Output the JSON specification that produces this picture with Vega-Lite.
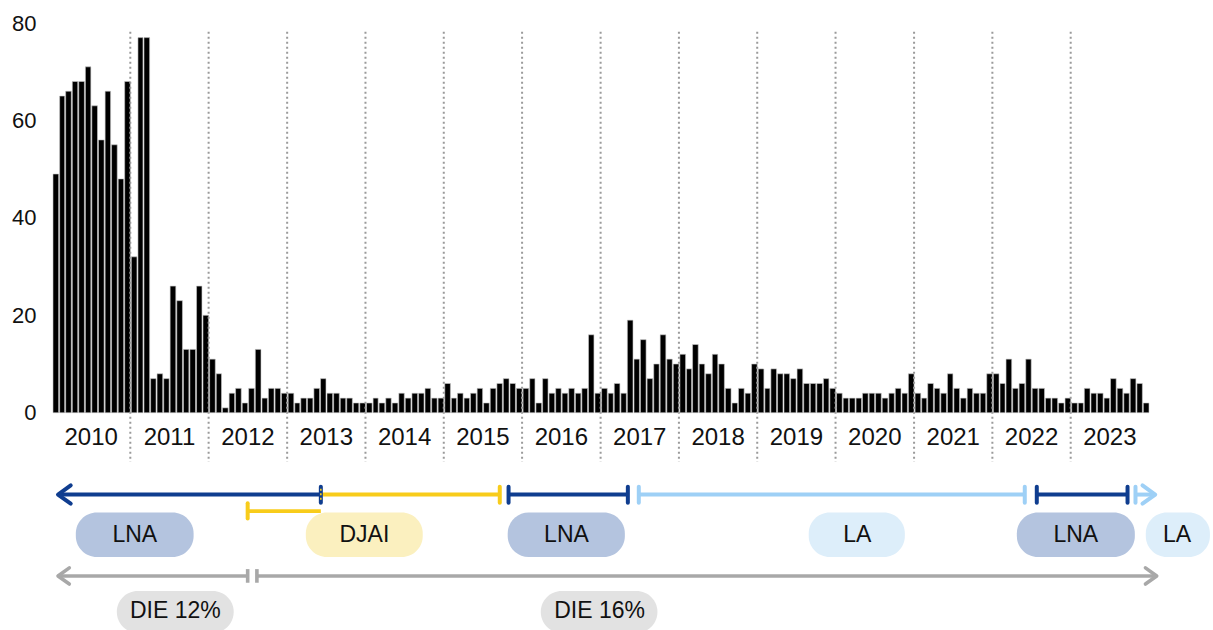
{
  "$schema": "https://vega.github.io/schema/vega-lite/v6.json",
  "width": 1097,
  "height": 607,
  "autosize": {"type": "none"},
  "padding": {"left": 52, "top": 23, "right": 64, "bottom": 0},
  "background": "white",
  "config": {"font": "Liberation Sans", "view": {"stroke": null}},
  "datasets": {
    "monthly": [
      {"month":"2010-01-01","n":49},{"month":"2010-02-01","n":65},{"month":"2010-03-01","n":66},{"month":"2010-04-01","n":68},{"month":"2010-05-01","n":68},{"month":"2010-06-01","n":71},{"month":"2010-07-01","n":63},{"month":"2010-08-01","n":56},{"month":"2010-09-01","n":66},{"month":"2010-10-01","n":55},{"month":"2010-11-01","n":48},{"month":"2010-12-01","n":68},
      {"month":"2011-01-01","n":32},{"month":"2011-02-01","n":77},{"month":"2011-03-01","n":77},{"month":"2011-04-01","n":7},{"month":"2011-05-01","n":8},{"month":"2011-06-01","n":7},{"month":"2011-07-01","n":26},{"month":"2011-08-01","n":23},{"month":"2011-09-01","n":13},{"month":"2011-10-01","n":13},{"month":"2011-11-01","n":26},{"month":"2011-12-01","n":20},
      {"month":"2012-01-01","n":11},{"month":"2012-02-01","n":8},{"month":"2012-03-01","n":1},{"month":"2012-04-01","n":4},{"month":"2012-05-01","n":5},{"month":"2012-06-01","n":2},{"month":"2012-07-01","n":5},{"month":"2012-08-01","n":13},{"month":"2012-09-01","n":3},{"month":"2012-10-01","n":5},{"month":"2012-11-01","n":5},{"month":"2012-12-01","n":4},
      {"month":"2013-01-01","n":4},{"month":"2013-02-01","n":2},{"month":"2013-03-01","n":3},{"month":"2013-04-01","n":3},{"month":"2013-05-01","n":5},{"month":"2013-06-01","n":7},{"month":"2013-07-01","n":4},{"month":"2013-08-01","n":4},{"month":"2013-09-01","n":3},{"month":"2013-10-01","n":3},{"month":"2013-11-01","n":2},{"month":"2013-12-01","n":2},
      {"month":"2014-01-01","n":2},{"month":"2014-02-01","n":3},{"month":"2014-03-01","n":2},{"month":"2014-04-01","n":3},{"month":"2014-05-01","n":2},{"month":"2014-06-01","n":4},{"month":"2014-07-01","n":3},{"month":"2014-08-01","n":4},{"month":"2014-09-01","n":4},{"month":"2014-10-01","n":5},{"month":"2014-11-01","n":3},{"month":"2014-12-01","n":3},
      {"month":"2015-01-01","n":6},{"month":"2015-02-01","n":3},{"month":"2015-03-01","n":4},{"month":"2015-04-01","n":3},{"month":"2015-05-01","n":4},{"month":"2015-06-01","n":5},{"month":"2015-07-01","n":2},{"month":"2015-08-01","n":5},{"month":"2015-09-01","n":6},{"month":"2015-10-01","n":7},{"month":"2015-11-01","n":6},{"month":"2015-12-01","n":5},
      {"month":"2016-01-01","n":5},{"month":"2016-02-01","n":7},{"month":"2016-03-01","n":2},{"month":"2016-04-01","n":7},{"month":"2016-05-01","n":4},{"month":"2016-06-01","n":5},{"month":"2016-07-01","n":4},{"month":"2016-08-01","n":5},{"month":"2016-09-01","n":4},{"month":"2016-10-01","n":5},{"month":"2016-11-01","n":16},{"month":"2016-12-01","n":4},
      {"month":"2017-01-01","n":5},{"month":"2017-02-01","n":4},{"month":"2017-03-01","n":6},{"month":"2017-04-01","n":4},{"month":"2017-05-01","n":19},{"month":"2017-06-01","n":11},{"month":"2017-07-01","n":15},{"month":"2017-08-01","n":7},{"month":"2017-09-01","n":10},{"month":"2017-10-01","n":16},{"month":"2017-11-01","n":11},{"month":"2017-12-01","n":10},
      {"month":"2018-01-01","n":12},{"month":"2018-02-01","n":9},{"month":"2018-03-01","n":14},{"month":"2018-04-01","n":10},{"month":"2018-05-01","n":8},{"month":"2018-06-01","n":12},{"month":"2018-07-01","n":10},{"month":"2018-08-01","n":5},{"month":"2018-09-01","n":2},{"month":"2018-10-01","n":5},{"month":"2018-11-01","n":4},{"month":"2018-12-01","n":10},
      {"month":"2019-01-01","n":9},{"month":"2019-02-01","n":5},{"month":"2019-03-01","n":9},{"month":"2019-04-01","n":8},{"month":"2019-05-01","n":8},{"month":"2019-06-01","n":7},{"month":"2019-07-01","n":9},{"month":"2019-08-01","n":6},{"month":"2019-09-01","n":6},{"month":"2019-10-01","n":6},{"month":"2019-11-01","n":7},{"month":"2019-12-01","n":5},
      {"month":"2020-01-01","n":4},{"month":"2020-02-01","n":3},{"month":"2020-03-01","n":3},{"month":"2020-04-01","n":3},{"month":"2020-05-01","n":4},{"month":"2020-06-01","n":4},{"month":"2020-07-01","n":4},{"month":"2020-08-01","n":3},{"month":"2020-09-01","n":4},{"month":"2020-10-01","n":5},{"month":"2020-11-01","n":4},{"month":"2020-12-01","n":8},
      {"month":"2021-01-01","n":4},{"month":"2021-02-01","n":3},{"month":"2021-03-01","n":6},{"month":"2021-04-01","n":5},{"month":"2021-05-01","n":4},{"month":"2021-06-01","n":8},{"month":"2021-07-01","n":5},{"month":"2021-08-01","n":3},{"month":"2021-09-01","n":5},{"month":"2021-10-01","n":4},{"month":"2021-11-01","n":4},{"month":"2021-12-01","n":8},
      {"month":"2022-01-01","n":8},{"month":"2022-02-01","n":6},{"month":"2022-03-01","n":11},{"month":"2022-04-01","n":5},{"month":"2022-05-01","n":6},{"month":"2022-06-01","n":11},{"month":"2022-07-01","n":5},{"month":"2022-08-01","n":5},{"month":"2022-09-01","n":3},{"month":"2022-10-01","n":3},{"month":"2022-11-01","n":2},{"month":"2022-12-01","n":3},
      {"month":"2023-01-01","n":2},{"month":"2023-02-01","n":2},{"month":"2023-03-01","n":5},{"month":"2023-04-01","n":4},{"month":"2023-05-01","n":4},{"month":"2023-06-01","n":3},{"month":"2023-07-01","n":7},{"month":"2023-08-01","n":5},{"month":"2023-09-01","n":4},{"month":"2023-10-01","n":7},{"month":"2023-11-01","n":6},{"month":"2023-12-01","n":2}
    ],
    "years": [
      {"year":"2010-01-01"},{"year":"2011-01-01"},{"year":"2012-01-01"},{"year":"2013-01-01"},{"year":"2014-01-01"},{"year":"2015-01-01"},{"year":"2016-01-01"},
      {"year":"2017-01-01"},{"year":"2018-01-01"},{"year":"2019-01-01"},{"year":"2020-01-01"},{"year":"2021-01-01"},{"year":"2022-01-01"},{"year":"2023-01-01"}
    ],
    "segments": [
      {"regime":"LNA","track":"top","start":"2010-01-29","end":"2013-06-07"},
      {"regime":"DJAI","track":"top","start":"2013-06-07","end":"2015-09-19"},
      {"regime":"DJAI","track":"low","start":"2012-07-01","end":"2013-06-07"},
      {"regime":"LNA","track":"top","start":"2015-10-30","end":"2017-05-08"},
      {"regime":"LA","track":"top","start":"2017-06-28","end":"2022-06-01"},
      {"regime":"LNA","track":"top","start":"2022-07-27","end":"2023-09-23"},
      {"regime":"LA","track":"top","start":"2023-10-30","end":"2024-01-28"},
      {"regime":"DIE","track":"die","start":"2010-01-29","end":"2012-07-01"},
      {"regime":"DIE","track":"die","start":"2012-08-13","end":"2024-02-04"}
    ],
    "markers": [
      {"regime":"LNA","track":"top","date":"2010-01-29","kind":"left"},
      {"regime":"LNA","track":"top","date":"2013-06-07","kind":"bar"},
      {"regime":"DJAI","track":"top","date":"2013-06-07","kind":"dots"},
      {"regime":"DJAI","track":"top","date":"2015-09-19","kind":"bar"},
      {"regime":"DJAI","track":"low","date":"2012-07-01","kind":"bar"},
      {"regime":"LNA","track":"top","date":"2015-10-30","kind":"bar"},
      {"regime":"LNA","track":"top","date":"2017-05-08","kind":"bar"},
      {"regime":"LA","track":"top","date":"2017-06-28","kind":"bar"},
      {"regime":"LA","track":"top","date":"2022-06-01","kind":"bar"},
      {"regime":"LNA","track":"top","date":"2022-07-27","kind":"bar"},
      {"regime":"LNA","track":"top","date":"2023-09-23","kind":"bar"},
      {"regime":"LA","track":"top","date":"2023-10-30","kind":"bar"},
      {"regime":"LA","track":"top","date":"2024-01-30","kind":"right"},
      {"regime":"DIE","track":"die","date":"2010-01-29","kind":"left"},
      {"regime":"DIE","track":"die","date":"2012-07-01","kind":"bar"},
      {"regime":"DIE","track":"die","date":"2012-08-13","kind":"bar"},
      {"regime":"DIE","track":"die","date":"2024-02-06","kind":"right"}
    ],
    "labels": [
      {"label":"LNA","regime":"LNA","row":"policy","start":"2010-04-22","end":"2011-10-23","mid":"2011-01-22"},
      {"label":"DJAI","regime":"DJAI","row":"policy","start":"2013-03-29","end":"2014-09-25","mid":"2013-12-27"},
      {"label":"LNA","regime":"LNA","row":"policy","start":"2015-10-26","end":"2017-04-24","mid":"2016-07-26"},
      {"label":"LA","regime":"LA","row":"policy","start":"2019-08-29","end":"2020-11-19","mid":"2020-04-11"},
      {"label":"LNA","regime":"LNA","row":"policy","start":"2022-04-25","end":"2023-10-27","mid":"2023-01-25"},
      {"label":"LA","regime":"LA","row":"policy","start":"2023-12-17","end":"2024-10-11","mid":"2024-05-11"},
      {"label":"DIE 12%","regime":"DIE","row":"die","start":"2010-10-30","end":"2012-04-27","mid":"2011-07-30"},
      {"label":"DIE 16%","regime":"DIE","row":"die","start":"2016-03-28","end":"2017-09-23","mid":"2016-12-27"}
    ]
  },
  "layer": [
    {
      "data": {"name": "monthly"},
      "mark": {"type": "bar", "color": "#000000", "stroke": "#c8c8c8", "strokeWidth": 0.6},
      "encoding": {
        "x": {"field": "month", "timeUnit": "utcyearmonth", "type": "temporal",
              "scale": {"type": "utc", "domain": [{"year": 2010, "month": 1, "date": 1, "utc": true}, {"year": 2024, "month": 1, "date": 1, "utc": true}]},
              "axis": null},
        "y": {"field": "n", "type": "quantitative",
              "scale": {"domain": [-44.6, 80], "nice": false, "zero": false},
              "axis": {"values": [0, 20, 40, 60, 80], "domain": false, "ticks": false, "grid": false, "title": null,
                       "labelFontSize": 22, "labelPadding": 16, "labelColor": "#111111", "labelFont": "Liberation Sans"}}
      }
    },
    {
      "data": {"name": "years"},
      "transform": [{"filter": "utcyear(toDate(datum.year)) > 2010"}],
      "mark": {"type": "rule", "color": "#9a9a9a", "strokeWidth": 2, "strokeDash": [2, 3]},
      "encoding": {
        "x": {"field": "year", "type": "temporal"},
        "y": {"datum": 78.2},
        "y2": {"datum": -10.1}
      }
    },
    {
      "data": {"name": "years"},
      "mark": {"type": "text", "fontSize": 24, "color": "#111111", "baseline": "middle", "align": "center"},
      "encoding": {
        "x": {"field": "year", "timeUnit": "utcyear", "type": "temporal", "bandPosition": 0.5},
        "y": {"datum": -5.2},
        "text": {"field": "year", "timeUnit": "utcyear", "type": "temporal", "format": "%Y"}
      }
    },
    {
      "data": {"name": "labels"},
      "transform": [{"filter": "datum.row === 'policy'"}],
      "mark": {"type": "rect", "cornerRadius": 21},
      "encoding": {
        "x": {"field": "start", "type": "temporal"},
        "x2": {"field": "end"},
        "y": {"datum": -20.5},
        "y2": {"datum": -29.6},
        "fill": {"field": "regime", "type": "nominal", "legend": null,
                 "scale": {"domain": ["LNA", "DJAI", "LA", "DIE"], "range": ["#b4c4df", "#fbf0bf", "#ddeefa", "#e2e2e2"]}}
      }
    },
    {
      "data": {"name": "labels"},
      "transform": [{"filter": "datum.row === 'die'"}],
      "mark": {"type": "rect", "cornerRadius": 21},
      "encoding": {
        "x": {"field": "start", "type": "temporal"},
        "x2": {"field": "end"},
        "y": {"datum": -36.6},
        "y2": {"datum": -45.2},
        "fill": {"field": "regime", "type": "nominal", "legend": null,
                 "scale": {"domain": ["LNA", "DJAI", "LA", "DIE"], "range": ["#b4c4df", "#fbf0bf", "#ddeefa", "#e2e2e2"]}}
      }
    },
    {
      "data": {"name": "labels"},
      "transform": [{"filter": "datum.row === 'policy'"}],
      "mark": {"type": "text", "fontSize": 23, "color": "#111111", "baseline": "middle", "align": "center"},
      "encoding": {
        "x": {"field": "mid", "type": "temporal"},
        "y": {"datum": -25.0},
        "text": {"field": "label"}
      }
    },
    {
      "data": {"name": "labels"},
      "transform": [{"filter": "datum.row === 'die'"}],
      "mark": {"type": "text", "fontSize": 23, "color": "#111111", "baseline": "middle", "align": "center"},
      "encoding": {
        "x": {"field": "mid", "type": "temporal"},
        "y": {"datum": -40.6},
        "text": {"field": "label"}
      }
    },
    {
      "data": {"name": "segments"},
      "transform": [{"filter": "datum.track === 'top'"}],
      "mark": {"type": "rule", "strokeWidth": 4},
      "encoding": {
        "x": {"field": "start", "type": "temporal"},
        "x2": {"field": "end"},
        "y": {"datum": -16.8},
        "stroke": {"field": "regime", "type": "nominal", "legend": null,
                   "scale": {"domain": ["LNA", "DJAI", "LA", "DIE"], "range": ["#0f3d8f", "#f8cc1b", "#9ed0f6", "#a8a8a8"]}}
      }
    },
    {
      "data": {"name": "segments"},
      "transform": [{"filter": "datum.track === 'low'"}],
      "mark": {"type": "rule", "strokeWidth": 3.6},
      "encoding": {
        "x": {"field": "start", "type": "temporal"},
        "x2": {"field": "end"},
        "y": {"datum": -20.2},
        "stroke": {"field": "regime", "type": "nominal", "legend": null,
                   "scale": {"domain": ["LNA", "DJAI", "LA", "DIE"], "range": ["#0f3d8f", "#f8cc1b", "#9ed0f6", "#a8a8a8"]}}
      }
    },
    {
      "data": {"name": "segments"},
      "transform": [{"filter": "datum.track === 'die'"}],
      "mark": {"type": "rule", "strokeWidth": 3.6},
      "encoding": {
        "x": {"field": "start", "type": "temporal"},
        "x2": {"field": "end"},
        "y": {"datum": -33.5},
        "stroke": {"field": "regime", "type": "nominal", "legend": null,
                   "scale": {"domain": ["LNA", "DJAI", "LA", "DIE"], "range": ["#0f3d8f", "#f8cc1b", "#9ed0f6", "#a8a8a8"]}}
      }
    },
    {
      "data": {"name": "markers"},
      "transform": [{"filter": "datum.track === 'top' && datum.kind === 'bar'"}],
      "mark": {"type": "rule", "strokeWidth": 4, "strokeCap": "round"},
      "encoding": {
        "x": {"field": "date", "type": "temporal"},
        "y": {"datum": -15.2},
        "y2": {"datum": -18.5},
        "stroke": {"field": "regime", "type": "nominal", "legend": null,
                   "scale": {"domain": ["LNA", "DJAI", "LA", "DIE"], "range": ["#0f3d8f", "#f8cc1b", "#9ed0f6", "#a8a8a8"]}}
      }
    },
    {
      "data": {"name": "markers"},
      "transform": [{"filter": "datum.track === 'low' && datum.kind === 'bar'"}],
      "mark": {"type": "rule", "strokeWidth": 4, "strokeCap": "round"},
      "encoding": {
        "x": {"field": "date", "type": "temporal"},
        "y": {"datum": -18.6},
        "y2": {"datum": -21.7},
        "stroke": {"field": "regime", "type": "nominal", "legend": null,
                   "scale": {"domain": ["LNA", "DJAI", "LA", "DIE"], "range": ["#0f3d8f", "#f8cc1b", "#9ed0f6", "#a8a8a8"]}}
      }
    },
    {
      "data": {"name": "markers"},
      "transform": [{"filter": "datum.track === 'die' && datum.kind === 'bar'"}],
      "mark": {"type": "rule", "strokeWidth": 3.6},
      "encoding": {
        "x": {"field": "date", "type": "temporal"},
        "y": {"datum": -32.1},
        "y2": {"datum": -34.9},
        "stroke": {"field": "regime", "type": "nominal", "legend": null,
                   "scale": {"domain": ["LNA", "DJAI", "LA", "DIE"], "range": ["#0f3d8f", "#f8cc1b", "#9ed0f6", "#a8a8a8"]}}
      }
    },
    {
      "data": {"name": "markers"},
      "transform": [{"filter": "datum.kind === 'dots'"}],
      "mark": {"type": "rule", "strokeWidth": 1.6, "strokeDash": [2, 2.5]},
      "encoding": {
        "x": {"field": "date", "type": "temporal"},
        "y": {"datum": -15.6},
        "y2": {"datum": -18.2},
        "stroke": {"field": "regime", "type": "nominal", "legend": null,
                   "scale": {"domain": ["LNA", "DJAI", "LA", "DIE"], "range": ["#0f3d8f", "#f8cc1b", "#9ed0f6", "#a8a8a8"]}}
      }
    },
    {
      "data": {"name": "markers"},
      "transform": [{"filter": "datum.track === 'top' && (datum.kind === 'left' || datum.kind === 'right')"}],
      "mark": {"type": "point", "filled": false, "strokeWidth": 4, "size": 330, "opacity": 1, "strokeCap": "round", "strokeJoin": "round"},
      "encoding": {
        "x": {"field": "date", "type": "temporal"},
        "y": {"datum": -16.8},
        "shape": {"field": "kind", "type": "nominal", "legend": null,
                  "scale": {"domain": ["left", "right"], "range": ["M1.4,-1L0,0L1.4,1", "M-1.4,-1L0,0L-1.4,1"]}},
        "stroke": {"field": "regime", "type": "nominal", "legend": null,
                   "scale": {"domain": ["LNA", "DJAI", "LA", "DIE"], "range": ["#0f3d8f", "#f8cc1b", "#9ed0f6", "#a8a8a8"]}}
      }
    },
    {
      "data": {"name": "markers"},
      "transform": [{"filter": "datum.track === 'die' && (datum.kind === 'left' || datum.kind === 'right')"}],
      "mark": {"type": "point", "filled": false, "strokeWidth": 3.6, "size": 260, "opacity": 1, "strokeCap": "round", "strokeJoin": "round"},
      "encoding": {
        "x": {"field": "date", "type": "temporal"},
        "y": {"datum": -33.5},
        "shape": {"field": "kind", "type": "nominal", "legend": null,
                  "scale": {"domain": ["left", "right"], "range": ["M1.4,-1L0,0L1.4,1", "M-1.4,-1L0,0L-1.4,1"]}},
        "stroke": {"field": "regime", "type": "nominal", "legend": null,
                   "scale": {"domain": ["LNA", "DJAI", "LA", "DIE"], "range": ["#0f3d8f", "#f8cc1b", "#9ed0f6", "#a8a8a8"]}}
      }
    }
  ]
}
